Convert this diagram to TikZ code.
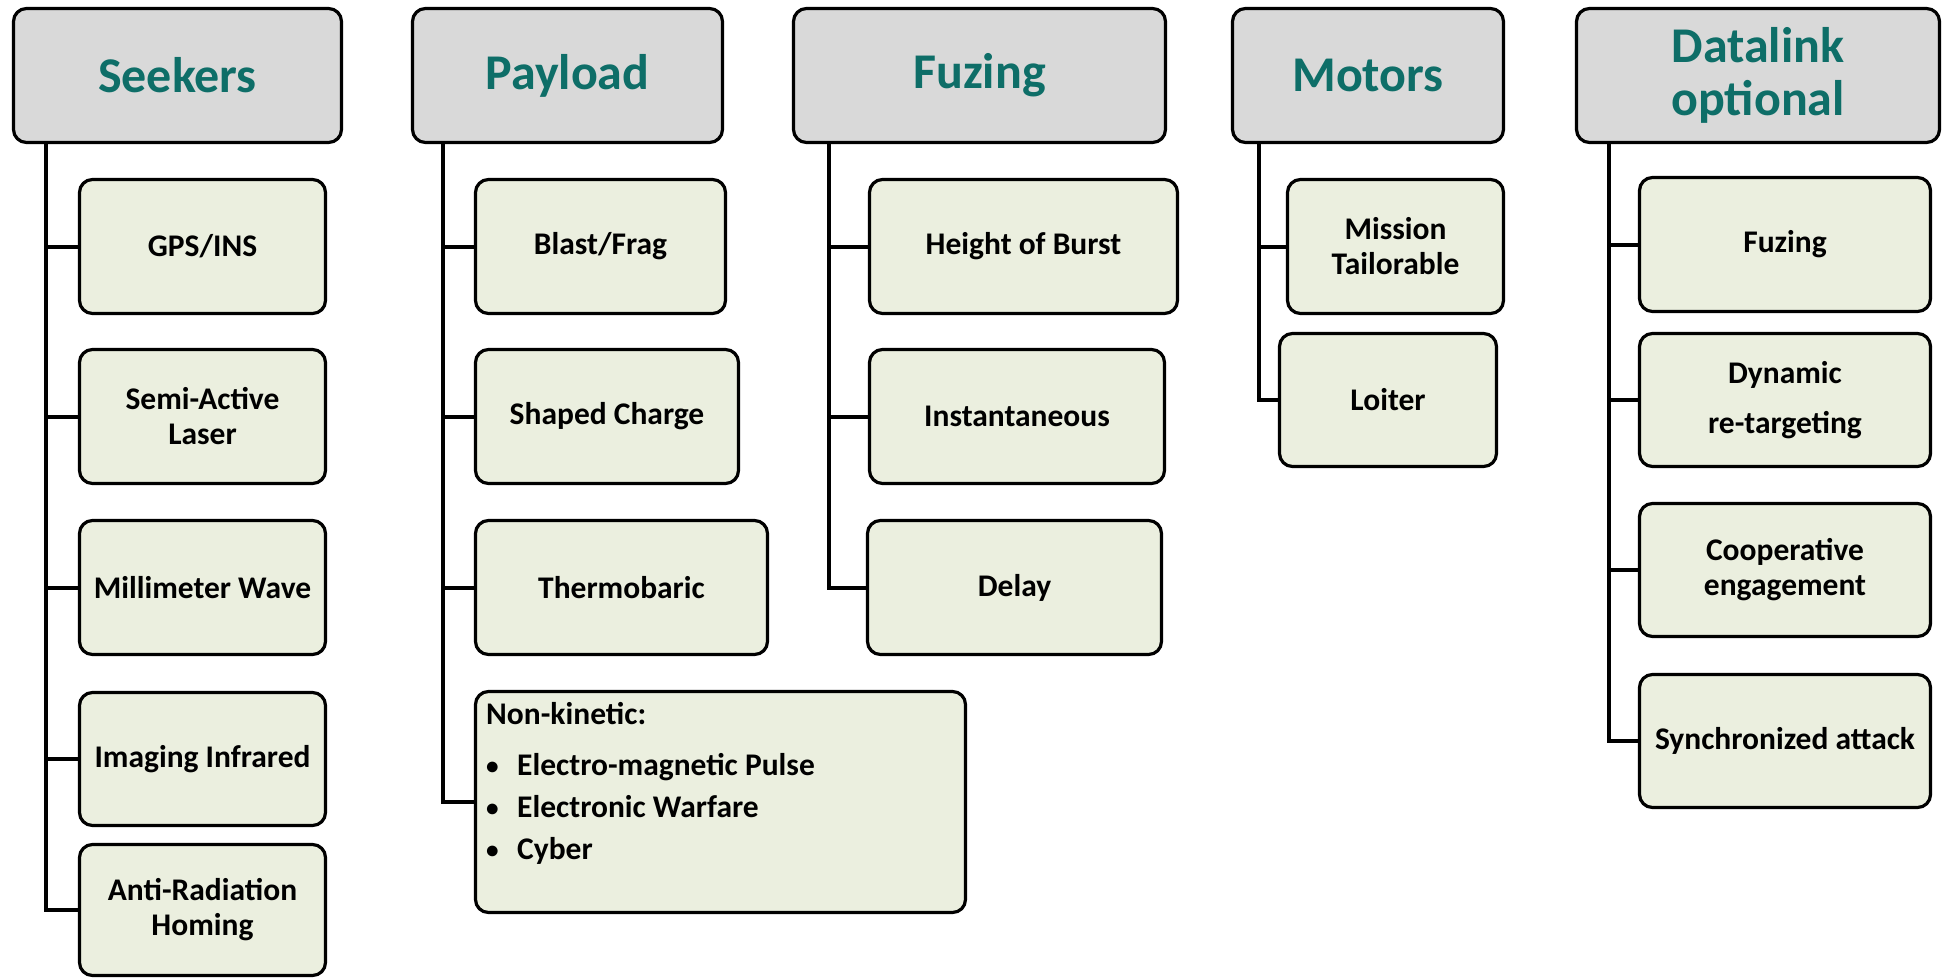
\documentclass[tikz,border=0pt]{standalone}
\usepackage{fontspec}
\setmainfont{Carlito}
\usetikzlibrary{backgrounds}
\definecolor{hdrfill}{HTML}{D9D9D9}
\definecolor{leaffill}{HTML}{EBEFDF}
\definecolor{hdrtext}{HTML}{0E6E68}
\newcommand{\mybul}{\makebox[31pt][l]{\raisebox{1pt}{\scalebox{0.8}{\textbullet}}}}
\tikzset{
  hdr/.style={draw=black, line width=3.2pt, rounded corners=13pt, fill=hdrfill,
    text=hdrtext, font=\fontsize{50}{53}\selectfont\bfseries, align=center,
    minimum height=134pt, inner sep=0pt},
  leaf/.style={draw=black, line width=3.2pt, rounded corners=13pt, fill=leaffill,
    font=\fontsize{31.5}{35}\selectfont\bfseries, align=center,
    minimum height=134pt, inner sep=0pt},
  conn/.style={draw=black, line width=4pt}
}
\begin{document}
\begin{tikzpicture}[x=1pt, y=-1pt]
\useasboundingbox (0,0) rectangle (1946,979);

% ---- Seekers
\node[hdr, minimum width=328pt] (seekH) at (177.5,75.5) {Seekers};
\node[leaf, minimum width=246pt] (gps) at (202.5,246.5) {GPS/INS};
\node[leaf, minimum width=246pt] (sal) at (202.5,416.5) {Semi-Active\\Laser};
\node[leaf, minimum width=246pt] (mmw) at (202.5,587.5) {Millimeter Wave};
\node[leaf, minimum width=246pt, minimum height=133pt] (iir) at (202.5,759) {Imaging Infrared};
\node[leaf, minimum width=246pt, minimum height=131pt] (arh) at (202.5,910) {Anti-Radiation\\Homing};

% ---- Payload
\node[hdr, minimum width=310pt] (payH) at (567.5,75.5) {Payload};
\node[leaf, minimum width=250pt] (blast) at (600.5,246.5) {Blast/Frag};
\node[leaf, minimum width=263pt] (shaped) at (607,416.5) {Shaped Charge};
\node[leaf, minimum width=292pt] (thermo) at (621.5,587.5) {Thermobaric};
\node[leaf, minimum width=490pt, minimum height=221pt] (nonkin) at (720.5,802) {};
\node[anchor=north west, inner sep=0pt, align=left,
      font=\fontsize{31.5}{42}\selectfont\bfseries] (nonkinText) at (486,702)
  {Non-kinetic:\\[9pt]
   \mybul Electro-magnetic Pulse\\
   \mybul Electronic Warfare\\
   \mybul Cyber};

% ---- Fuzing
\node[hdr, minimum width=372pt] (fuzH) at (979.5,75.5) {Fuzing};
\node[leaf, minimum width=308pt] (hob) at (1023.5,246.5) {Height of Burst};
\node[leaf, minimum width=295pt] (inst) at (1017,416.5) {Instantaneous};
\node[leaf, minimum width=294pt] (delay) at (1014.5,587.5) {Delay};

% ---- Motors
\node[hdr, minimum width=271pt] (motH) at (1368,75.5) {Motors};
\node[leaf, minimum width=216pt] (mission) at (1395.5,246.5) {Mission\\Tailorable};
\node[leaf, minimum width=217pt, minimum height=133pt] (loiter) at (1388,400) {Loiter};

% ---- Datalink
\node[hdr, minimum width=363pt] (dlH) at (1758,75.5) {Datalink\\optional};
\node[leaf, minimum width=291pt] (dfuz) at (1785,244.5) {Fuzing};
\node[leaf, minimum width=291pt, minimum height=133pt] (dyn) at (1785,400) {Dynamic\\[15pt]re-targeting};
\node[leaf, minimum width=291pt, minimum height=133pt] (coop) at (1785,570) {Cooperative\\engagement};
\node[leaf, minimum width=291pt, minimum height=133pt] (sync) at (1785,741) {Synchronized attack};

% ---- connectors
\coordinate (sT) at (46,140);
\coordinate (pT) at (443,140);
\coordinate (fT) at (829,140);
\coordinate (mT) at (1259,140);
\coordinate (dT) at (1609,140);
\begin{scope}[on background layer]
  \draw[conn] (sT) |- (gps.west);
  \draw[conn] (sT) |- (sal.west);
  \draw[conn] (sT) |- (mmw.west);
  \draw[conn] (sT) |- (iir.west);
  \draw[conn] (sT) |- (arh.west);
  \draw[conn] (pT) |- (blast.west);
  \draw[conn] (pT) |- (shaped.west);
  \draw[conn] (pT) |- (thermo.west);
  \draw[conn] (pT) |- (nonkin.west);
  \draw[conn] (fT) |- (hob.west);
  \draw[conn] (fT) |- (inst.west);
  \draw[conn] (fT) |- (delay.west);
  \draw[conn] (mT) |- (mission.west);
  \draw[conn] (mT) |- (loiter.west);
  \draw[conn] (dT) |- (dfuz.west);
  \draw[conn] (dT) |- (dyn.west);
  \draw[conn] (dT) |- (coop.west);
  \draw[conn] (dT) |- (sync.west);
\end{scope}
\end{tikzpicture}
\end{document}
